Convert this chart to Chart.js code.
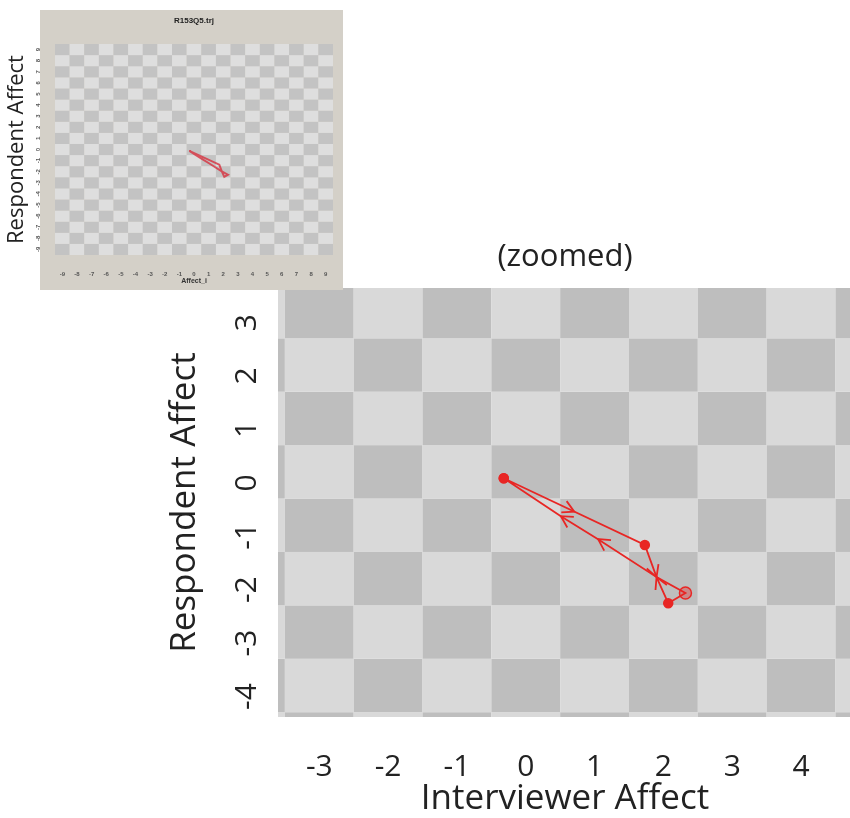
<!DOCTYPE html>
<html>
<head>
<meta charset="utf-8">
<script src="https://cdn.jsdelivr.net/npm/chart.js@4"></script>
<style>
body{margin:0;background:#fff;width:850px;height:818px;overflow:hidden;position:relative}
canvas{position:absolute;display:block}
#inset{left:0;top:10px;z-index:2}
#main{left:150px;top:230px;z-index:1}
</style>
</head>
<body>
<canvas id="inset" width="343" height="280"></canvas>
<canvas id="main" width="708" height="588"></canvas>
<script>
// trajectory (interviewer affect, respondent affect)
const trajX=[-0.32,1.73,1.90,2.32,2.07,1.90,1.05,0.51,-0.32]
const trajY=[-0.12,-1.37,-1.97,-2.27,-2.46,-1.97,-1.26,-0.83,-0.12]

const mainXTicks=[-3,-2,-1,0,1,2,3,4]
const mainYTicks=[-4,-3,-2,-1,0,1,2,3]
const insetTicks=[-9,-8,-7,-6,-5,-4,-3,-2,-1,0,1,2,3,4,5,6,7,8,9]

const RED="rgb(232,38,36)"
const FONT="'Open Sans'"
const marked=[0,1,3,4,8]

function points(){
return trajX.map((x,i)=>({x:x,y:trajY[i]}))
}

function fixTicks(list){
return function(scale){
scale.ticks=list.map(v=>({value:v}))
}
}

// checkerboard behind the data, one cell per unit
const checker={
id:"checker",
beforeDatasetsDraw(chart,args,opts){
const {ctx,chartArea:a,scales:{x,y}}=chart
ctx.save()
ctx.beginPath()
ctx.rect(a.left,a.top,a.right-a.left,a.bottom-a.top)
ctx.clip()
for(let i=Math.floor(x.min);i<=Math.ceil(x.max);i++){
for(let j=Math.floor(y.min);j<=Math.ceil(y.max);j++){
const l=x.getPixelForValue(i-0.5)
const r=x.getPixelForValue(i+0.5)
const t=y.getPixelForValue(j+0.5)
const b=y.getPixelForValue(j-0.5)
ctx.fillStyle=Math.abs(i+j)%2===0?opts.dark:opts.light
ctx.fillRect(l,t,r-l,b-t)
}
}
ctx.restore()
}
}

// beige window panel of the small picture
const panel={
id:"panel",
beforeDraw(chart,args,opts){
if(!opts.color)return
const ctx=chart.ctx
ctx.save()
ctx.fillStyle=opts.color
ctx.fillRect(opts.left,0,chart.width-opts.left,chart.height)
ctx.restore()
}
}

// arrow heads along the path
const arrows={
id:"arrows",
afterDatasetsDraw(chart,args,opts){
if(!opts.on)return
const ctx=chart.ctx
const pts=chart.getDatasetMeta(0).data
ctx.save()
ctx.strokeStyle=RED
ctx.lineWidth=1.8
function head(px,py,ang){
ctx.beginPath()
ctx.moveTo(px-13*Math.cos(ang-0.5),py-13*Math.sin(ang-0.5))
ctx.lineTo(px,py)
ctx.lineTo(px-13*Math.cos(ang+0.5),py-13*Math.sin(ang+0.5))
ctx.stroke()
}
for(let i=1;i<pts.length;i++){
const a=pts[i-1],b=pts[i]
const ang=Math.atan2(b.y-a.y,b.x-a.x)
if(Math.hypot(b.x-a.x,b.y-a.y)>100)head((a.x+b.x)/2,(a.y+b.y)/2,ang)
if(!marked.includes(i))head(b.x,b.y,ang)
}
ctx.restore()
}
}

Chart.register(checker,panel,arrows)

new Chart(document.getElementById("inset"),{
type:"scatter",
data:{datasets:[{
data:points(),
showLine:true,
borderColor:"rgba(214,58,70,0.85)",
borderWidth:2,
pointRadius:0
}]},
options:{
responsive:false,
animation:false,
layout:{padding:{right:10}},
plugins:{
legend:{display:false},
tooltip:{enabled:false},
title:{display:true,text:"R153Q5.trj",fullSize:false,color:"#222",
font:{family:"Liberation Sans",size:8,weight:"bold"},padding:{top:6,bottom:18.4}},
checker:{dark:"#c3c3c3",light:"#dedede"},
panel:{left:40,color:"#d4d0c8"},
arrows:{on:false}
},
scales:{
x:{type:"linear",min:-9.5,max:9.5,
grid:{display:false},border:{display:false},
afterBuildTicks:fixTicks(insetTicks),
afterFit(s){s.height=35},
ticks:{color:"#555",padding:8,font:{family:"Liberation Sans",size:6,weight:"bold"}},
title:{display:true,text:"Affect_i",color:"#333",
font:{family:"Liberation Sans",size:7,weight:"bold"},padding:{top:0,bottom:5}}
},
y:{type:"linear",min:-9.5,max:9.5,
grid:{display:false},border:{display:false},
afterBuildTicks:fixTicks(insetTicks),
afterFit(s){s.width=55},
ticks:{color:"#555",padding:6,minRotation:90,maxRotation:90,crossAlign:"center",
font:{family:"Liberation Sans",size:6,weight:"bold"}},
title:{display:true,text:"Respondent Affect",color:"#222",
font:{family:FONT,size:22,lineHeight:1.1},padding:{top:5}}
}
}
}
})

new Chart(document.getElementById("main"),{
type:"scatter",
data:{datasets:[{
data:points(),
showLine:true,
borderColor:RED,
borderWidth:1.8,
pointRadius:c=>c.dataIndex===3?6:(marked.includes(c.dataIndex)?4.5:0),
pointBackgroundColor:c=>c.dataIndex===3?"rgba(232,38,36,0.35)":RED,
pointBorderColor:RED,
pointBorderWidth:1.5
}]},
options:{
responsive:false,
animation:false,
layout:{padding:0},
plugins:{
legend:{display:false},
tooltip:{enabled:false},
title:{display:true,text:"(zoomed)",fullSize:false,color:"#222",
font:{family:FONT,size:31,weight:"normal",lineHeight:1.1},padding:{top:10,bottom:14}},
checker:{dark:"#bebebe",light:"#d9d9d9"},
arrows:{on:true}
},
scales:{
x:{type:"linear",min:-3.6,max:4.74,
grid:{display:false},border:{display:false},
afterBuildTicks:fixTicks(mainXTicks),
afterFit(s){s.height=101},
ticks:{color:"#222",padding:24,font:{family:FONT,size:30}},
title:{display:true,text:"Interviewer Affect",color:"#222",
font:{family:FONT,size:35,lineHeight:1.1},padding:{top:0,bottom:0}}
},
y:{type:"linear",min:-4.59,max:3.44,
grid:{display:false},border:{display:false},
afterBuildTicks:fixTicks(mainYTicks),
afterFit(s){s.width=128},
ticks:{color:"#222",padding:9,minRotation:90,maxRotation:90,crossAlign:"center",labelOffset:11,
font:{family:FONT,size:30}},
title:{display:true,text:"Respondent Affect",color:"#222",
font:{family:FONT,size:35,lineHeight:1.1},padding:{top:16}}
}
}
}
})
</script>
</body>
</html>
